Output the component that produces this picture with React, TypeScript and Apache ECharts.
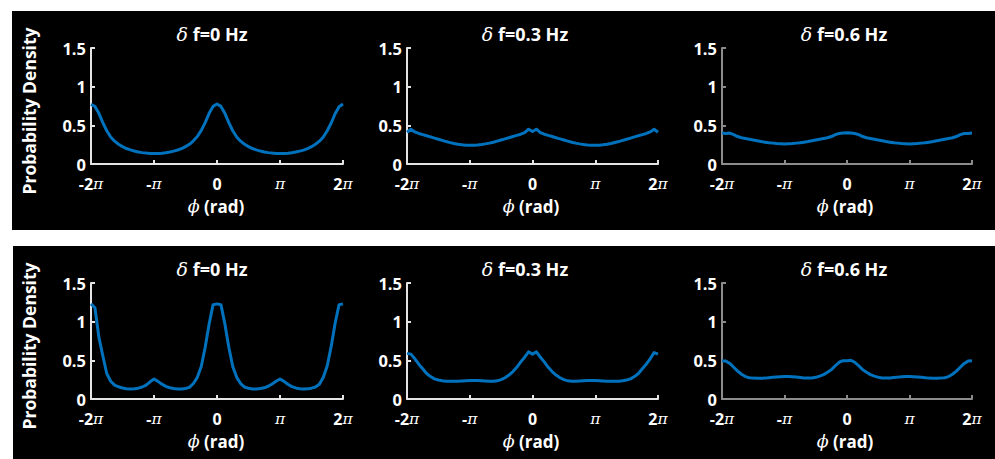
import React, { useEffect, useRef } from "react";
import * as echarts from "echarts";

// phase grid in units of pi (-2π … 2π, step π/16)
const PHI_PI = [
  -2, -1.9375, -1.875, -1.8125, -1.75, -1.6875, -1.625, -1.5625, -1.5, -1.4375, -1.375, -1.3125, -1.25, -1.1875, -1.125, -1.0625, -1,
  -0.9375, -0.875, -0.8125, -0.75, -0.6875, -0.625, -0.5625, -0.5, -0.4375, -0.375, -0.3125, -0.25, -0.1875, -0.125, -0.0625, 0,
  0.0625, 0.125, 0.1875, 0.25, 0.3125, 0.375, 0.4375, 0.5, 0.5625, 0.625, 0.6875, 0.75, 0.8125, 0.875, 0.9375, 1,
  1.0625, 1.125, 1.1875, 1.25, 1.3125, 1.375, 1.4375, 1.5, 1.5625, 1.625, 1.6875, 1.75, 1.8125, 1.875, 1.9375, 2,
];

const TOP_0HZ = [
  0.77, 0.745, 0.655, 0.535, 0.43, 0.35, 0.295, 0.255, 0.225, 0.2, 0.182, 0.168, 0.156, 0.147, 0.141, 0.137, 0.135,
  0.136, 0.14, 0.146, 0.155, 0.167, 0.181, 0.2, 0.225, 0.255, 0.3, 0.355, 0.435, 0.535, 0.655, 0.745, 0.775,
  0.745, 0.655, 0.535, 0.43, 0.35, 0.295, 0.255, 0.225, 0.2, 0.182, 0.167, 0.156, 0.147, 0.141, 0.137, 0.135,
  0.136, 0.14, 0.146, 0.155, 0.167, 0.18, 0.2, 0.224, 0.255, 0.295, 0.35, 0.43, 0.53, 0.65, 0.74, 0.775,
];
const TOP_03HZ = [
  0.41, 0.45, 0.415, 0.395, 0.38, 0.365, 0.35, 0.335, 0.32, 0.305, 0.29, 0.277, 0.265, 0.255, 0.248, 0.244, 0.242,
  0.243, 0.246, 0.252, 0.26, 0.27, 0.282, 0.296, 0.31, 0.325, 0.34, 0.355, 0.37, 0.385, 0.405, 0.45, 0.42,
  0.45, 0.405, 0.385, 0.37, 0.355, 0.34, 0.325, 0.31, 0.296, 0.282, 0.27, 0.26, 0.252, 0.246, 0.243, 0.242,
  0.244, 0.248, 0.255, 0.265, 0.277, 0.29, 0.305, 0.32, 0.335, 0.35, 0.365, 0.38, 0.395, 0.415, 0.45, 0.41,
];
const TOP_06HZ = [
  0.4, 0.395, 0.4, 0.38, 0.355, 0.34, 0.33, 0.32, 0.31, 0.3, 0.29, 0.282, 0.275, 0.27, 0.265, 0.262, 0.26,
  0.262, 0.265, 0.27, 0.275, 0.282, 0.29, 0.3, 0.31, 0.32, 0.33, 0.34, 0.355, 0.38, 0.395, 0.4, 0.405,
  0.4, 0.395, 0.38, 0.355, 0.34, 0.33, 0.32, 0.31, 0.3, 0.29, 0.282, 0.275, 0.27, 0.265, 0.262, 0.26,
  0.262, 0.265, 0.27, 0.275, 0.282, 0.29, 0.3, 0.31, 0.32, 0.33, 0.34, 0.355, 0.38, 0.395, 0.395, 0.4,
];
const BOT_0HZ = [
  1.23, 1.18, 0.8, 0.56, 0.33, 0.23, 0.18, 0.158, 0.143, 0.133, 0.13, 0.132, 0.14, 0.155, 0.18, 0.222, 0.258,
  0.228, 0.192, 0.163, 0.145, 0.135, 0.13, 0.13, 0.135, 0.15, 0.2, 0.28, 0.42, 0.67, 0.97, 1.22, 1.23,
  1.22, 0.97, 0.67, 0.42, 0.28, 0.2, 0.155, 0.138, 0.13, 0.13, 0.135, 0.145, 0.165, 0.195, 0.23, 0.258,
  0.228, 0.19, 0.16, 0.143, 0.133, 0.13, 0.131, 0.14, 0.155, 0.19, 0.28, 0.43, 0.68, 0.98, 1.22, 1.23,
];
const BOT_03HZ = [
  0.59, 0.58, 0.52, 0.45, 0.39, 0.33, 0.29, 0.26, 0.245, 0.235, 0.23, 0.228, 0.228, 0.23, 0.233, 0.237, 0.24,
  0.24, 0.238, 0.235, 0.232, 0.23, 0.23, 0.235, 0.25, 0.275, 0.31, 0.355, 0.41, 0.48, 0.54, 0.61, 0.58,
  0.61, 0.54, 0.48, 0.41, 0.355, 0.31, 0.275, 0.25, 0.235, 0.23, 0.23, 0.232, 0.235, 0.238, 0.24, 0.24,
  0.237, 0.233, 0.23, 0.228, 0.228, 0.23, 0.235, 0.245, 0.26, 0.29, 0.33, 0.39, 0.45, 0.52, 0.6, 0.58,
];
const BOT_06HZ = [
  0.49, 0.49, 0.46, 0.41, 0.36, 0.32, 0.29, 0.275, 0.27, 0.268, 0.268, 0.27, 0.275, 0.28, 0.285, 0.288, 0.29,
  0.29, 0.288, 0.283, 0.277, 0.272, 0.27, 0.272, 0.28, 0.295, 0.315, 0.345, 0.38, 0.43, 0.475, 0.495, 0.495,
  0.5, 0.475, 0.43, 0.38, 0.345, 0.315, 0.295, 0.28, 0.272, 0.27, 0.272, 0.277, 0.283, 0.288, 0.29, 0.29,
  0.288, 0.285, 0.28, 0.275, 0.27, 0.268, 0.268, 0.27, 0.275, 0.29, 0.32, 0.36, 0.41, 0.46, 0.49, 0.495,
];

const FREQ_LABELS = ["0", "0.3", "0.6"];
const X_TICK_VALUES = [-2, -1, 0, 1, 2];
const X_TICK_LABELS = ["-2π", "-π", "0", "π", "2π"];
const Y_LABEL = "Probability Density";
const X_LABEL_UNIT = "(rad)";

const PANEL_SERIES = [
  [TOP_0HZ, TOP_03HZ, TOP_06HZ],
  [BOT_0HZ, BOT_03HZ, BOT_06HZ],
];

const FONT = "'Open Sans', 'Noto Sans', sans-serif";
const SERIF = "'DejaVu Serif', 'Liberation Serif', serif";
const LINE_COLOR = "#0072BD";

export default function App() {
  const ref = useRef<HTMLDivElement>(null);

  useEffect(() => {
    if (!ref.current) return;
    const chart = echarts.init(ref.current, undefined, { renderer: "svg" });

    const rowTops = [48, 283];
    const rowHeights = [116, 116];
    const colLefts = [91, 407, 722];
    const colWidths = [252, 251, 250];
    const axisColors = ["#e4e4e4", "#e4e4e4", "#8c8c8c"];
    const titleX = [212, 525, 844];
    const xNameX = [216, 531, 845];
    const titleY = [34, 269];
    const xNameY = [206, 441];
    const yNameY = [111, 346];

    const grids: any[] = [];
    const xAxes: any[] = [];
    const yAxes: any[] = [];
    const series: any[] = [];
    const graphics: any[] = [
      { type: "rect", z: -10, silent: true, shape: { x: 12, y: 11, width: 983, height: 219 }, style: { fill: "#000" } },
      { type: "rect", z: -10, silent: true, shape: { x: 13, y: 246, width: 982, height: 213 }, style: { fill: "#000" } },
    ];

    const tickRich = {
      n: { color: "#fff", fontFamily: FONT, fontWeight: "bold", fontSize: 16, lineHeight: 16 },
      p: { color: "#fff", fontFamily: SERIF, fontStyle: "italic", fontSize: 15.5, lineHeight: 16 },
    };
    const fmtTick = (v: number) => {
      const i = X_TICK_VALUES.indexOf(Math.round(v));
      if (i < 0) return "";
      const s = X_TICK_LABELS[i];
      return s
        .split("π")
        .map((part, j, arr) => (part ? `{n|${part}}` : "") + (j < arr.length - 1 ? "{p|π}" : ""))
        .join("");
    };

    for (let r = 0; r < 2; r++) {
      graphics.push({
        type: "text",
        x: 29,
        y: yNameY[r],
        rotation: Math.PI / 2,
        z: 10,
        style: {
          text: Y_LABEL,
          fill: "#fff",
          font: `bold 17.5px ${FONT}`,
          lineHeight: 18,
          align: "center",
          verticalAlign: "middle",
          textAlign: "center",
          textVerticalAlign: "middle",
        },
      });
      for (let c = 0; c < 3; c++) {
        const idx = r * 3 + c;
        grids.push({ left: colLefts[c], top: rowTops[r], width: colWidths[c], height: rowHeights[r], containLabel: false });
        const axColor = axisColors[c];
        xAxes.push({
          type: "value",
          gridIndex: idx,
          min: -2,
          max: 2,
          interval: 1,
          axisLine: { show: true, onZero: false, lineStyle: { color: axColor, width: 2 } },
          axisTick: { show: true, inside: true, length: 4, lineStyle: { color: axColor, width: 2 } },
          splitLine: { show: false },
          axisLabel: { formatter: fmtTick, rich: tickRich, margin: 12, color: "#fff", lineHeight: 16 },
        });
        yAxes.push({
          type: "value",
          gridIndex: idx,
          min: 0,
          max: 1.5,
          interval: 0.5,
          axisLine: { show: true, onZero: false, lineStyle: { color: axColor, width: 2 } },
          axisTick: { show: true, inside: true, length: 4, lineStyle: { color: axColor, width: 2 } },
          splitLine: { show: false },
          axisLabel: { color: "#fff", fontFamily: FONT, fontWeight: "bold", fontSize: 16.5, lineHeight: 16, margin: 5 },
        });
        const ys = PANEL_SERIES[r][c];
        series.push({
          type: "line",
          xAxisIndex: idx,
          yAxisIndex: idx,
          data: PHI_PI.map((x, i) => [x, ys[i]]),
          showSymbol: false,
          symbol: "none",
          lineStyle: { color: LINE_COLOR, width: 3, join: "round" },
          z: 5,
        });
        graphics.push({
          type: "text",
          x: titleX[c],
          y: titleY[r],
          z: 10,
          style: {
            text: `{d|δ} {b|f=${FREQ_LABELS[c]} Hz}`,
            rich: {
              d: { fill: "#fff", fontFamily: SERIF, fontStyle: "italic", fontSize: 19, lineHeight: 20 },
              b: { fill: "#fff", fontFamily: FONT, fontWeight: "bold", fontSize: 18, lineHeight: 20 },
            },
            fill: "#fff",
            font: `bold 18px ${FONT}`,
            lineHeight: 20,
            align: "center",
            verticalAlign: "middle",
            textAlign: "center",
            textVerticalAlign: "middle",
          },
        });
        graphics.push({
          type: "text",
          x: xNameX[c],
          y: xNameY[r],
          z: 10,
          style: {
            text: `{p|ϕ} {b|${X_LABEL_UNIT}}`,
            rich: {
              p: { fill: "#fff", fontFamily: SERIF, fontStyle: "italic", fontSize: 17.5, lineHeight: 18 },
              b: { fill: "#fff", fontFamily: FONT, fontWeight: "bold", fontSize: 17, lineHeight: 18 },
            },
            fill: "#fff",
            font: `bold 17px ${FONT}`,
            lineHeight: 18,
            align: "center",
            verticalAlign: "middle",
            textAlign: "center",
            textVerticalAlign: "middle",
          },
        });
      }
    }

    chart.setOption({
      animation: false,
      backgroundColor: "#fff",
      graphic: graphics,
      grid: grids,
      xAxis: xAxes,
      yAxis: yAxes,
      series,
    });

    return () => chart.dispose();
  }, []);

  return (
    <div
      ref={ref}
      style={{ position: "absolute", left: 0, top: 0, width: 995, height: 459 }}
    />
  );
}
